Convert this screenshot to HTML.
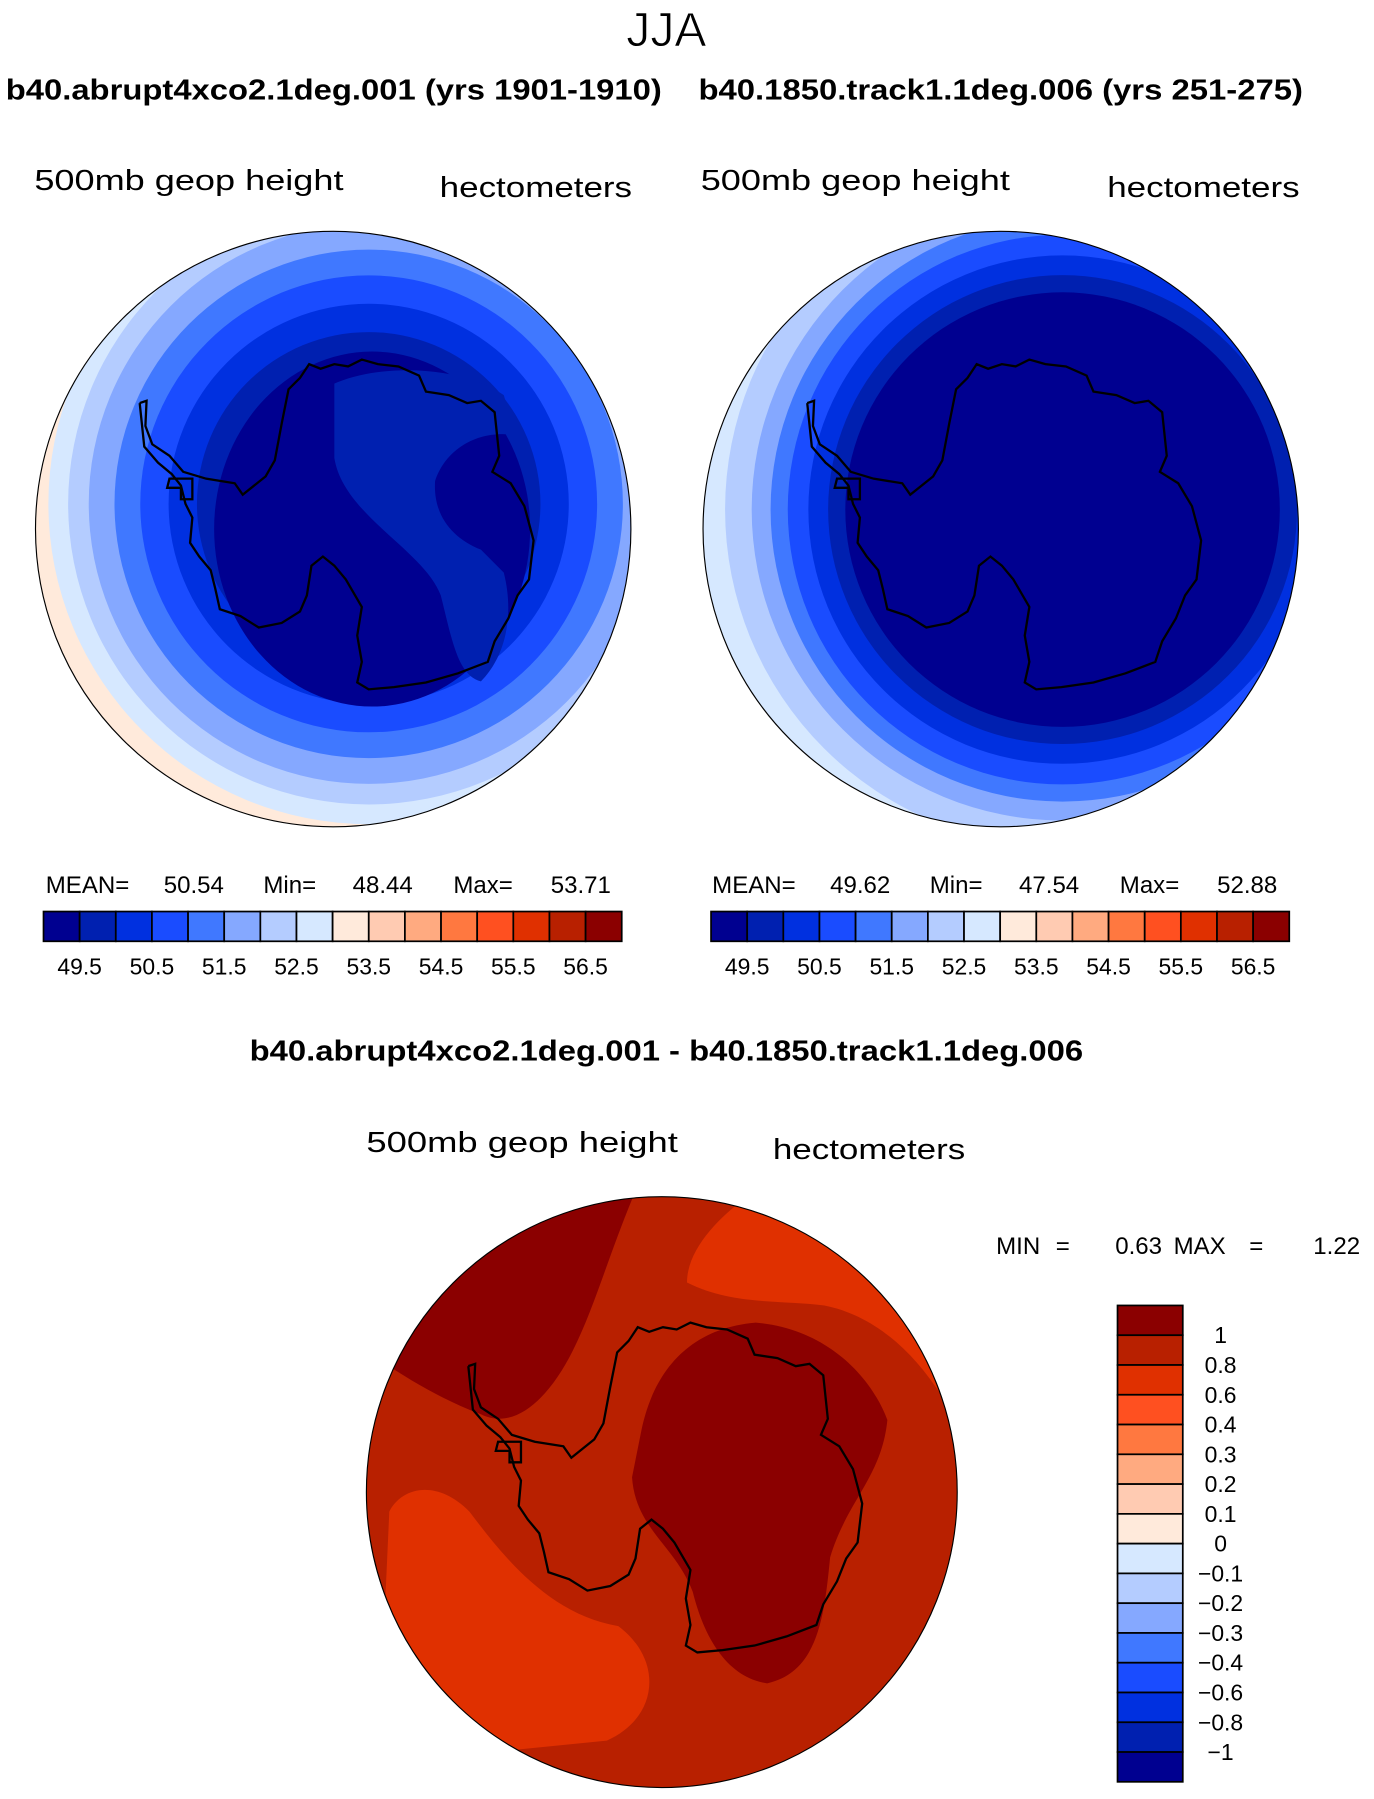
<!DOCTYPE html>
<html><head><meta charset="utf-8"><style>
html,body{margin:0;padding:0;background:#fff}
svg{display:block}
text{font-family:"Liberation Sans",sans-serif;fill:#000}
</style></head><body>
<svg id="fig" width="1374" height="1799" viewBox="0 0 1200 1571" preserveAspectRatio="none" xmlns="http://www.w3.org/2000/svg">
<defs>
<clipPath id="cL"><circle cx="291" cy="462" r="260"/></clipPath>
<clipPath id="cR"><circle cx="874" cy="462" r="260"/></clipPath>
<clipPath id="cB"><circle cx="578" cy="1303" r="258"/></clipPath>
</defs>
<text x="582" y="40" font-size="42" text-anchor="middle" stroke="#fff" stroke-width="0.8">JJA</text>
<text x="5" y="87" font-size="25" font-weight="bold" textLength="573" lengthAdjust="spacingAndGlyphs">b40.abrupt4xco2.1deg.001 (yrs 1901-1910)</text>
<text x="610" y="87" font-size="25" font-weight="bold" textLength="528" lengthAdjust="spacingAndGlyphs">b40.1850.track1.1deg.006 (yrs 251-275)</text>
<text x="30" y="166" font-size="25" textLength="270" lengthAdjust="spacingAndGlyphs">500mb  geop  height</text>
<text x="384" y="172" font-size="25" textLength="168" lengthAdjust="spacingAndGlyphs">hectometers</text>
<text x="612" y="166" font-size="25" textLength="270" lengthAdjust="spacingAndGlyphs">500mb  geop  height</text>
<text x="967" y="172" font-size="25" textLength="168" lengthAdjust="spacingAndGlyphs">hectometers</text>
<g id="mapL"></g>
<g id="mapR"></g>
<g id="mapB"></g>
<g id="stats"></g>
<g id="cbars"></g>
<text x="582" y="926" font-size="25" font-weight="bold" text-anchor="middle" textLength="728" lengthAdjust="spacingAndGlyphs">b40.abrupt4xco2.1deg.001 - b40.1850.track1.1deg.006</text>
<text x="320" y="1006" font-size="25" textLength="272" lengthAdjust="spacingAndGlyphs">500mb  geop  height</text>
<text x="675" y="1012" font-size="25" textLength="168" lengthAdjust="spacingAndGlyphs">hectometers</text>
<text x="870" y="1095" font-size="21">MIN</text>
<text x="922" y="1095" font-size="21">=</text>
<text x="974" y="1095" font-size="21">0.63</text>
<text x="1025" y="1095" font-size="21">MAX</text>
<text x="1091" y="1095" font-size="21">=</text>
<text x="1147" y="1095" font-size="21">1.22</text>
</svg>
<script>
const NS="http://www.w3.org/2000/svg";
const palette=["#000090","#0020b0","#0030e0","#1a4cff","#4078ff","#85a8ff","#b4ccff","#d6e8ff","#ffeadb","#ffcbb2","#ffaa80","#ff7840","#ff5020","#e03000","#b82000","#8b0000"];
const hTicks=["49.5","50.5","51.5","52.5","53.5","54.5","55.5","56.5"];
const vTicks=["1","0.8","0.6","0.4","0.3","0.2","0.1","0","\u22120.1","\u22120.2","\u22120.3","\u22120.4","\u22120.6","\u22120.8","\u22121"];
const statNames=["MEAN=","Min=","Max="];
const statsLeft=[50.54,48.44,53.71];
const statsRight=[49.62,47.54,52.88];
const bandIdxLeft=[8,7,6,5,4,3,2,1];
const bandDegLeft=[40,37.3,35,32.6,29.6,26.6,23.3,20];
const bandIdxRight=[7,6,5,4,3,2,1,0];
const bandDegRight=[42.6,39.3,36.2,34,32,29.6,27.3,25.3];
const DEG=7.5;

function el(tag,attrs,parent){const e=document.createElementNS(NS,tag);for(const k in attrs)e.setAttribute(k,attrs[k]);parent.appendChild(e);return e;}

const coast=[[122,352],[128,350],[127,372],[133,388],[148,398],[160,412],[180,418],[205,422],[212,432],[232,416],[240,402],[246,370],[252,340],[262,330],[270,318],[280,322],[292,318],[304,320],[316,314],[330,318],[348,320],[366,328],[372,342],[392,345],[408,352],[420,350],[432,360],[436,398],[430,412],[446,422],[458,442],[466,472],[462,506],[452,520],[444,540],[432,560],[426,578],[400,588],[372,596],[344,600],[322,602],[312,596],[316,578],[312,555],[316,530],[302,506],[292,494],[282,486],[272,494],[268,520],[262,534],[246,544],[226,548],[210,538],[192,532],[188,514],[184,498],[174,486],[166,474],[168,452],[162,440],[158,424],[150,414],[138,404],[126,390],[122,352]];
function drawCoast(g,dx,dy){
  const d="M"+coast.map(p=>(p[0]+dx)+","+(p[1]+dy)).join("L");
  const p=el("path",{d:d,fill:"none",stroke:"#000","stroke-width":2},g);
  
  
  const i=el("path",{d:`M${148+dx},${418+dy}l20,0l0,18l-10,0l0,-10l-12,0z`,fill:"none",stroke:"#000","stroke-width":2},g);
  
  
}

function drawMap(id,clip,cx,cy,r,baseIdx,idxs,degs,rcx,rcy,extra){
  const g=document.getElementById(id);
  const inner=el("g",{"clip-path":`url(#${clip})`},g);
  el("rect",{x:cx-r,y:cy-r,width:2*r,height:2*r,fill:palette[baseIdx]},inner);
  idxs.forEach((ci,k)=>{
    const c=el("circle",{cx:rcx,cy:rcy,r:degs[k]*DEG,fill:palette[ci]},inner);
    
    
  });
  if(extra)extra(inner);
  drawCoast(inner,cx-291,cy-462);
  const o=el("circle",{cx:cx,cy:cy,r:r,fill:"none",stroke:"#000","stroke-width":1},g);
  
  
}

drawMap("mapL","cL",291,462,260,9,bandIdxLeft,bandDegLeft,322,440,(g)=>{
  el("ellipse",{cx:325,cy:462,rx:138,ry:155,fill:palette[0]},g);
  const s=el("path",{d:"M292,335 C330,318 400,318 440,345 L450,380 C420,375 390,390 380,420 C378,450 395,470 420,480 L440,500 C450,540 440,575 420,595 C400,590 395,560 385,520 C370,480 300,450 292,400 Z",fill:palette[1]},g);
  
  
});
drawMap("mapR","cR",874,462,260,8,bandIdxRight,bandDegRight,928,445,null);

drawMap("mapB","cB",578,1303,258,14,[],[],0,0,(g)=>{
  const shapes=[
    ["M320,1040 L555,1040 C530,1100 520,1140 500,1180 C480,1220 450,1250 420,1235 C380,1220 350,1200 320,1180 Z",15],
    ["M560,1250 C570,1200 600,1160 660,1155 C720,1160 760,1200 775,1240 C770,1290 740,1310 725,1360 C720,1410 715,1460 670,1470 C635,1465 615,1430 605,1390 C590,1350 555,1335 552,1290 Z",15],
    ["M600,1120 C600,1090 630,1060 660,1040 L840,1040 L840,1250 C810,1190 770,1150 720,1140 C680,1135 640,1140 600,1120 Z",13],
    ["M340,1320 C350,1300 380,1290 410,1320 C440,1360 480,1410 540,1420 C580,1450 575,1500 530,1520 L330,1540 Z",13]
  ];
  shapes.forEach(s=>{
    const p=el("path",{d:s[0],fill:palette[s[1]]},g);
    
    
  });
});

const sg=document.getElementById("stats");
[[statsLeft,0],[statsRight,582]].forEach(([vals,ox])=>{
  const xs=[40,143,230,308,396,481];
  statNames.forEach((n,i)=>{
    const t=el("text",{x:xs[2*i]+ox,y:780,"font-size":21},sg);t.textContent=n;
    
    
    const v=el("text",{x:xs[2*i+1]+ox,y:780,"font-size":21},sg);v.textContent=vals[i].toFixed(2);
    
    
  });
});

const cb=document.getElementById("cbars");
[38,621].forEach(x0=>{
  const w=505/palette.length;
  palette.forEach((c,i)=>{
    const r=el("rect",{x:x0+i*w,y:796,width:w,height:26,fill:c,stroke:"#000","stroke-width":1.5},cb);
    
    
  });
  hTicks.forEach((t,i)=>{
    const tx=el("text",{x:x0+(2*i+1)*w,y:851,"font-size":20,"text-anchor":"middle"},cb);tx.textContent=t;
    
    
  });
});
{
  const x0=976,y0=1140,h=416/palette.length;
  palette.slice().reverse().forEach((c,i)=>{
    const r=el("rect",{x:x0,y:y0+i*h,width:57,height:h,fill:c,stroke:"#000","stroke-width":1.5},cb);
    
    
  });
  vTicks.forEach((t,i)=>{
    const tx=el("text",{x:1066,y:y0+(i+1)*h+7,"font-size":20,"text-anchor":"middle"},cb);tx.textContent=t;
    
    
  });
}
</script>
</body></html>
